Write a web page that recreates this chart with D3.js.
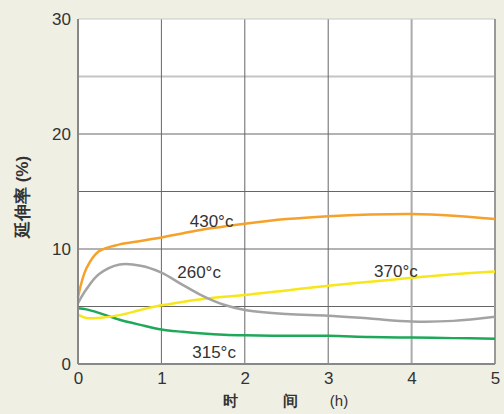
<!DOCTYPE html>
<html>
<head>
<meta charset="utf-8">
<script src="https://cdn.jsdelivr.net/npm/d3@7"></script>
<style>
  body { margin: 0; background: #f0efe4; overflow: hidden; }
  svg { display: block; }
  text { font-family: "Liberation Sans", Arial, sans-serif; fill: #333; }
</style>
</head>
<body>
<div id="chart"></div>
<script>
// elongation (%) vs time (h) at four temperatures

var times = [0, 0.1, 0.25, 0.5, 0.75, 1, 1.25, 1.5, 1.75, 2, 2.5, 3, 3.5, 4, 4.5, 5];

var s430 = [5.8, 8.3, 9.8, 10.4, 10.7, 11.0, 11.35, 11.7, 11.95, 12.2, 12.6, 12.85, 13.0, 13.05, 12.9, 12.6];
var s260 = [5.3, 6.5, 7.8, 8.65, 8.55, 7.95, 6.9, 5.9, 5.15, 4.7, 4.35, 4.2, 3.95, 3.7, 3.75, 4.1];
var s370 = [4.3, 4.0, 4.0, 4.25, 4.7, 5.1, 5.4, 5.65, 5.85, 6.0, 6.4, 6.8, 7.15, 7.5, 7.8, 8.05];
var s315 = [4.85, 4.75, 4.45, 3.85, 3.4, 3.0, 2.8, 2.65, 2.55, 2.5, 2.45, 2.45, 2.35, 2.3, 2.25, 2.2];

var seriesNames = ["430°c", "260°c", "370°c", "315°c"];
var seriesColors = ["#f5a12a", "#a3a3a3", "#f7e619", "#1fa85a"];

var xTicks = [0, 1, 2, 3, 4, 5];
var yTicks = [0, 10, 20, 30];
var yGrid = [5, 10, 15, 20, 25];

// where the series names sit (data coords)
var labelX = [1.34, 1.19, 3.55, 1.37];
var labelY = [11.9, 7.5, 7.6, 0.5];

var width = 504;
var height = 414;
var margin = { top: 19, right: 9, bottom: 50, left: 78 };
var innerWidth = width - margin.left - margin.right;
var innerHeight = height - margin.top - margin.bottom;

var svg = d3.select("#chart")
  .append("svg")
  .attr("width", width)
  .attr("height", height);

var g = svg.append("g")
  .attr("transform", "translate(" + margin.left + "," + margin.top + ")");

var x = d3.scaleLinear().domain([0, 5]).range([0, innerWidth]);
var y = d3.scaleLinear().domain([0, 30]).range([innerHeight, 0]);

g.append("rect")
  .attr("width", innerWidth)
  .attr("height", innerHeight)
  .attr("fill", "#fff");

// horizontal grid
g.selectAll(".hgrid")
  .data(yGrid)
  .enter()
  .append("line")
  .attr("x1", 0)
  .attr("x2", innerWidth)
  .attr("y1", function(d) { return y(d); })
  .attr("y2", function(d) { return y(d); })
  .attr("stroke", function(d) { return d === 25 ? "#c4c4c4" : "#666"; })
  .attr("stroke-width", function(d) { return d === 25 ? 2 : 1; });

// vertical grid
g.selectAll(".vgrid")
  .data([1, 2, 3, 4])
  .enter()
  .append("line")
  .attr("y1", 0)
  .attr("y2", innerHeight)
  .attr("x1", function(d) { return x(d); })
  .attr("x2", function(d) { return x(d); })
  .attr("stroke", function(d) { return d === 4 ? "#aaa" : "#666"; })
  .attr("stroke-width", function(d) { return d === 4 ? 2 : 1; });

// frame
g.append("line").attr("x1", 0).attr("x2", innerWidth).attr("y1", 0).attr("y2", 0)
  .attr("stroke", "#c8c8c8").attr("stroke-width", 1);
g.append("line").attr("x1", innerWidth).attr("x2", innerWidth).attr("y1", 0).attr("y2", innerHeight)
  .attr("stroke", "#999").attr("stroke-width", 2);

// curves
var line = d3.line()
  .x(function(d) { return x(d[0]); })
  .y(function(d) { return y(d[1]); })
  .curve(d3.curveCatmullRom.alpha(0.5));

var allSeries = [s315, s370, s260, s430];
var allColors = [seriesColors[3], seriesColors[2], seriesColors[1], seriesColors[0]];

allSeries.forEach(function(s, i) {
  g.append("path")
    .datum(times.map(function(t, j) { return [t, s[j]]; }))
    .attr("d", line)
    .attr("fill", "none")
    .attr("stroke", allColors[i])
    .attr("stroke-width", 2.5);
});

// axis lines
g.append("line").attr("x1", 0).attr("x2", 0).attr("y1", 0).attr("y2", innerHeight)
  .attr("stroke", "#888").attr("stroke-width", 2);
g.append("line").attr("x1", 0).attr("x2", innerWidth).attr("y1", innerHeight).attr("y2", innerHeight)
  .attr("stroke", "#888").attr("stroke-width", 2);

// tick labels
var xAxis = g.append("g")
  .attr("transform", "translate(0," + innerHeight + ")")
  .call(d3.axisBottom(x).tickValues(xTicks).tickSize(0).tickPadding(8).tickFormat(d3.format("d")));
xAxis.select(".domain").remove();
xAxis.selectAll("text")
  .attr("font-size", 17)
  .attr("font-family", "Liberation Sans, Arial, sans-serif")
  .attr("fill", "#333");

var yAxis = g.append("g")
  .call(d3.axisLeft(y).tickValues(yTicks).tickSize(0).tickPadding(7).tickFormat(d3.format("d")));
yAxis.select(".domain").remove();
yAxis.selectAll("text")
  .attr("font-size", 17)
  .attr("font-family", "Liberation Sans, Arial, sans-serif")
  .attr("fill", "#333");

// series labels
g.selectAll(".slabel")
  .data(seriesNames)
  .enter()
  .append("text")
  .attr("class", "slabel")
  .attr("x", function(d, i) { return x(labelX[i]); })
  .attr("y", function(d, i) { return y(labelY[i]); })
  .attr("font-size", 17)
  .text(function(d) { return d; });

// axis titles
svg.append("text").attr("x", 230).attr("y", 406).attr("text-anchor", "middle")
  .attr("font-size", 15).attr("font-weight", "bold").text("时");
svg.append("text").attr("x", 290).attr("y", 406).attr("text-anchor", "middle")
  .attr("font-size", 15).attr("font-weight", "bold").text("间");
svg.append("text").attr("x", 339).attr("y", 406).attr("text-anchor", "middle")
  .attr("font-size", 15).text("(h)");

svg.append("text")
  .attr("transform", "translate(28,197) rotate(-90)")
  .attr("text-anchor", "middle")
  .attr("font-size", 17)
  .attr("font-weight", "bold")
  .text("延伸率 (%)");
</script>
</body>
</html>
